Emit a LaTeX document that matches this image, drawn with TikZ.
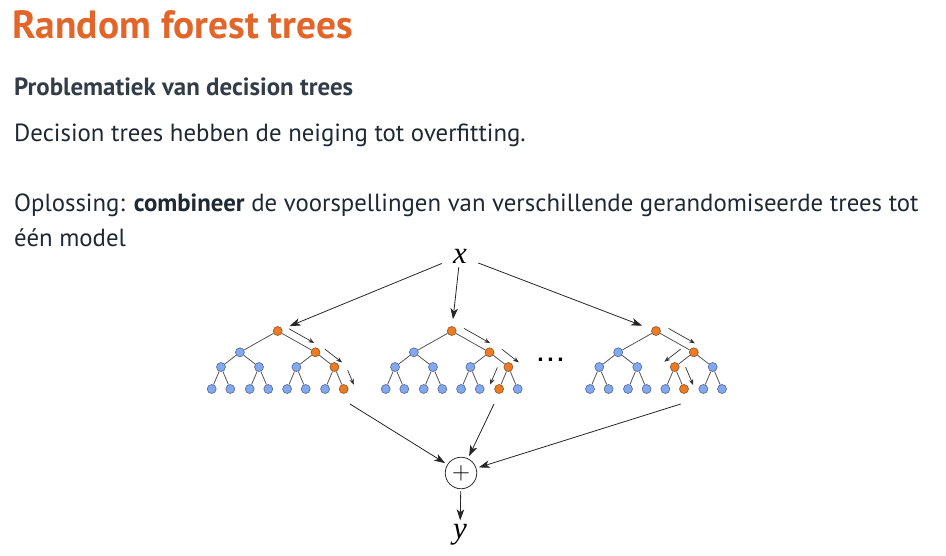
\documentclass[tikz,border=0pt]{standalone}
\usepackage{fontspec}
\setmainfont{PT Sans}
\newfontfamily\varserif{Liberation Serif}
\newfontfamily\dotsfont{Liberation Sans}
\usetikzlibrary{calc,arrows.meta}

\definecolor{titleorange}{HTML}{E2662A}
\definecolor{headgray}{HTML}{333D48}
\definecolor{bodytext}{HTML}{1F2933}
\definecolor{nodeblue}{HTML}{80A9F2}
\definecolor{nodeblueedge}{HTML}{55678A}
\definecolor{nodeorange}{HTML}{EE7B22}
\definecolor{nodeorangeedge}{HTML}{8A5528}
\definecolor{edgegray}{HTML}{555555}

% One decision tree of depth 3; #1 name, #2 root x, #3-#6 nodes on the decision path
\newcommand\foresttree[6]{%
  \foreach \i/\dx/\yy in {0/0/331, 1/-37.8/352.3, 2/37.8/352.3,
      3/-56.7/367, 4/-18.7/367, 5/18.7/367, 6/56.7/367,
      7/-66/389, 8/-47.4/389, 9/-28/389, 10/-9.4/389,
      11/9.4/389, 12/28/389, 13/47.4/389, 14/66/389}{
    \pgfmathtruncatemacro\onpath{(\i==#3)||(\i==#4)||(\i==#5)||(\i==#6)}
    \pgfmathsetmacro\xx{#2+\dx}
    \ifnum\onpath=1
      \node[onode] (#1-\i) at (\xx,\yy) {};
    \else
      \node[tnode] (#1-\i) at (\xx,\yy) {};
    \fi
  }
  \foreach \c in {1,...,14}{
    \pgfmathtruncatemacro\parentidx{(\c-1)/2}
    \draw[tedge] (#1-\parentidx) -- (#1-\c);
  }
}

% Small arrow running beside the edge #1 -> #2:
% #3/#4 start/end fraction, #5 offset, #6 side angle (90 or -90)
\newcommand\pathstep[6]{%
  \pgfmathsetmacro\backangle{#6-180}
  \coordinate (ps-a) at ($(#1)!#5!#6:(#2)$);
  \coordinate (ps-b) at ($(#2)!#5!\backangle:(#1)$);
  \draw[steparrow] ($(ps-a)!#3!(ps-b)$) -- ($(ps-a)!#4!(ps-b)$);
}

\begin{document}
\begin{tikzpicture}[x=1pt,y=-1pt,
  textline/.style={anchor=base west, inner sep=0, text=bodytext,
    font=\fontsize{24.8}{30}\selectfont},
  tnode/.style={circle, inner sep=0, minimum size=9pt, draw=nodeblueedge,
    fill=nodeblue, line width=0.6pt},
  onode/.style={tnode, draw=nodeorangeedge, fill=nodeorange},
  tedge/.style={draw=edgegray, line width=0.8pt},
  steparrow/.style={draw=black!80, line width=0.7pt,
    -{Stealth[length=6pt,width=4.5pt]}},
  mainarrow/.style={draw=black!85, line width=0.8pt,
    -{Stealth[length=11pt,width=7.5pt,inset=3pt]}},
  var/.style={font=\varserif\itshape\fontsize{31}{31}\selectfont, inner sep=0}
]
\useasboundingbox (0,0) rectangle (946,555);
\fill[white] (0,0) rectangle (946,555);

% headings and text
\node[anchor=base west, inner sep=0, text=titleorange,
  font=\bfseries\fontsize{39.4}{42}\selectfont] (title) at (12,38) {Random forest trees};
\node[anchor=base west, inner sep=0, text=headgray,
  font=\bfseries\fontsize{24.9}{30}\selectfont] (sub) at (14,95) {Problematiek van decision trees};
\node[textline] (l1) at (14,141.7) {Decision trees hebben de neiging tot overfitting.};
\node[textline] (l2) at (14,211.7) {Oplossing: \textbf{combineer} de voorspellingen van verschillende gerandomiseerde trees tot};
\node[textline] (l3) at (14,246.5) {één model};

% the three trees
\foresttree{t1}{277.7}{0}{2}{6}{14}
\foresttree{t2}{451.7}{0}{2}{6}{13}
\foresttree{t3}{656}{0}{2}{5}{12}

% decision paths
\pathstep{t1-0}{t1-2}{0.2}{0.87}{7.5pt}{90}
\pathstep{t1-2}{t1-6}{0.22}{1.14}{8.3pt}{90}
\pathstep{t1-6}{t1-14}{0.34}{1.0}{11pt}{90}
\pathstep{t2-0}{t2-2}{0.22}{0.91}{8.3pt}{90}
\pathstep{t2-2}{t2-6}{0.33}{1.23}{10pt}{90}
\pathstep{t2-6}{t2-13}{0.2}{0.98}{10pt}{-90}
\pathstep{t3-0}{t3-2}{0.22}{0.92}{8.4pt}{90}
\pathstep{t3-2}{t3-5}{0.35}{1.21}{10.5pt}{-90}
\pathstep{t3-5}{t3-12}{0.18}{1.0}{10pt}{90}

\node[font=\dotsfont\bfseries\fontsize{23}{23}\selectfont, inner sep=0] (dots) at (550.5,359.5) {.\hspace{3.6pt}.\hspace{3.6pt}.};

% input, combination and output
\node[var, minimum width=36pt, minimum height=22pt] (x) at (460,256) {x};
\node[circle, draw=black!80, line width=0.8pt, minimum size=31.5pt, inner sep=0,
  font=\fontsize{30}{30}\selectfont] (sum) at (461,473) {$+$};
\node[var] (y) at (460,535) {y};

\coordinate (o1) at (350,404);
\coordinate (o2) at (494,404);
\coordinate (o3) at (680.7,404);

\draw[mainarrow, shorten >=8pt] (x) -- (t1-0);
\draw[mainarrow, shorten >=7pt] (x) -- (t2-0);
\draw[mainarrow, shorten >=10pt] (x) -- (t3-0);
\draw[mainarrow, shorten >=2.5pt] (o1) -- (sum);
\draw[mainarrow, shorten >=2.5pt] (o2) -- (sum);
\draw[mainarrow, shorten >=2.5pt] (o3) -- (sum);
\draw[mainarrow, shorten <=2pt, shorten >=4pt] (sum) -- (y);
\end{tikzpicture}
\end{document}
